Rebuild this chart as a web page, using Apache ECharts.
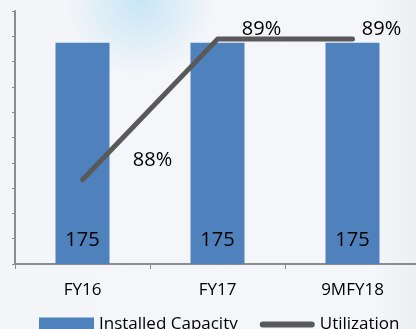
<!DOCTYPE html>
<html><head><meta charset="utf-8">
<script src="https://cdn.jsdelivr.net/npm/echarts@6/dist/echarts.min.js"></script>
<style>html,body{margin:0;padding:0;}#c{width:416px;height:329px;}</style>
</head><body><div id="c"></div>
<script>
var categories = ['FY16', 'FY17', '9MFY18'];
var capacity = [175, 175, 175];
var utilization = [88, 89, 89];
var utilLabels = ['88%', '89%', '89%'];
var capacityTicks = [0, 20, 40, 60, 80, 100, 120, 140, 160, 180, 200];

var chart = echarts.init(document.getElementById('c'));
var FONT = '"Open Sans", "Liberation Sans", sans-serif';
var labelOffsets = [[70, -19], [44, -10], [29, -10]];
chart.setOption({
  animation: false,
  backgroundColor: {
    type: 'linear', x: 0, y: 0, x2: 1, y2: 0,
    colorStops: [
      {offset: 0, color: '#f3f5f9'},
      {offset: 0.9, color: '#f5f6f9'},
      {offset: 1, color: '#eceef1'}
    ]
  },
  graphic: [{
    type: 'circle', shape: {cx: 140, cy: 0, r: 75}, silent: true, z: -10,
    style: {fill: {type: 'radial', x: 0.5, y: 0.5, r: 0.5,
      colorStops: [{offset: 0, color: 'rgba(195,228,245,0.9)'}, {offset: 1, color: 'rgba(195,228,245,0)'}]}}
  }],
  grid: {left: 15, top: 11, width: 405, height: 253, outerBoundsMode: 'none', containLabel: false},
  legend: {
    left: 34, top: 311,
    itemWidth: 55, itemHeight: 14, itemGap: 22,
    textStyle: {fontFamily: FONT, fontSize: 17, color: '#000'},
    data: [
      {name: 'Installed Capacity', icon: 'rect'},
      {name: 'Utilization', icon: 'path://M0,0 M55,14 M3,4 L52,4 A3,3 0 0 1 52,10 L3,10 A3,3 0 0 1 3,4 Z'}
    ]
  },
  xAxis: {
    type: 'category', data: categories,
    axisLine: {lineStyle: {color: '#8c8c8c', width: 2}},
    axisTick: {show: true, length: 5, lineStyle: {color: '#8c8c8c'}},
    axisLabel: {fontFamily: FONT, fontSize: 17, color: '#000', margin: 18}
  },
  yAxis: [{
    type: 'value', min: capacityTicks[0], max: capacityTicks[capacityTicks.length - 1], interval: 20,
    splitLine: {show: false},
    axisLine: {show: true, lineStyle: {color: '#8c8c8c', width: 2}},
    axisTick: {show: true, length: 3, lineStyle: {color: '#8c8c8c'}},
    axisLabel: {show: false}
  }, {
    type: 'value', min: 87.4, max: 89.2, show: false, splitLine: {show: false}
  }],
  series: [{
    name: 'Installed Capacity', type: 'bar', data: capacity, barWidth: 54,
    itemStyle: {color: '#4f81bd'},
    label: {show: true, position: 'insideBottom', distance: 14, fontFamily: FONT, fontSize: 20, color: '#000'}
  }, {
    name: 'Utilization', type: 'line', yAxisIndex: 1,
    data: utilization.map(function (v, i) {
      return {value: v, label: {offset: labelOffsets[i]}};
    }),
    symbol: 'circle', symbolSize: 0.1,
    itemStyle: {color: '#595959'},
    lineStyle: {color: '#595959', width: 5, cap: 'round', join: 'round'},
    label: {show: true, position: 'inside', fontFamily: FONT, fontSize: 20, color: '#000',
      formatter: function (p) { return utilLabels[p.dataIndex]; }},
    z: 5
  }]
});
</script></body></html>
